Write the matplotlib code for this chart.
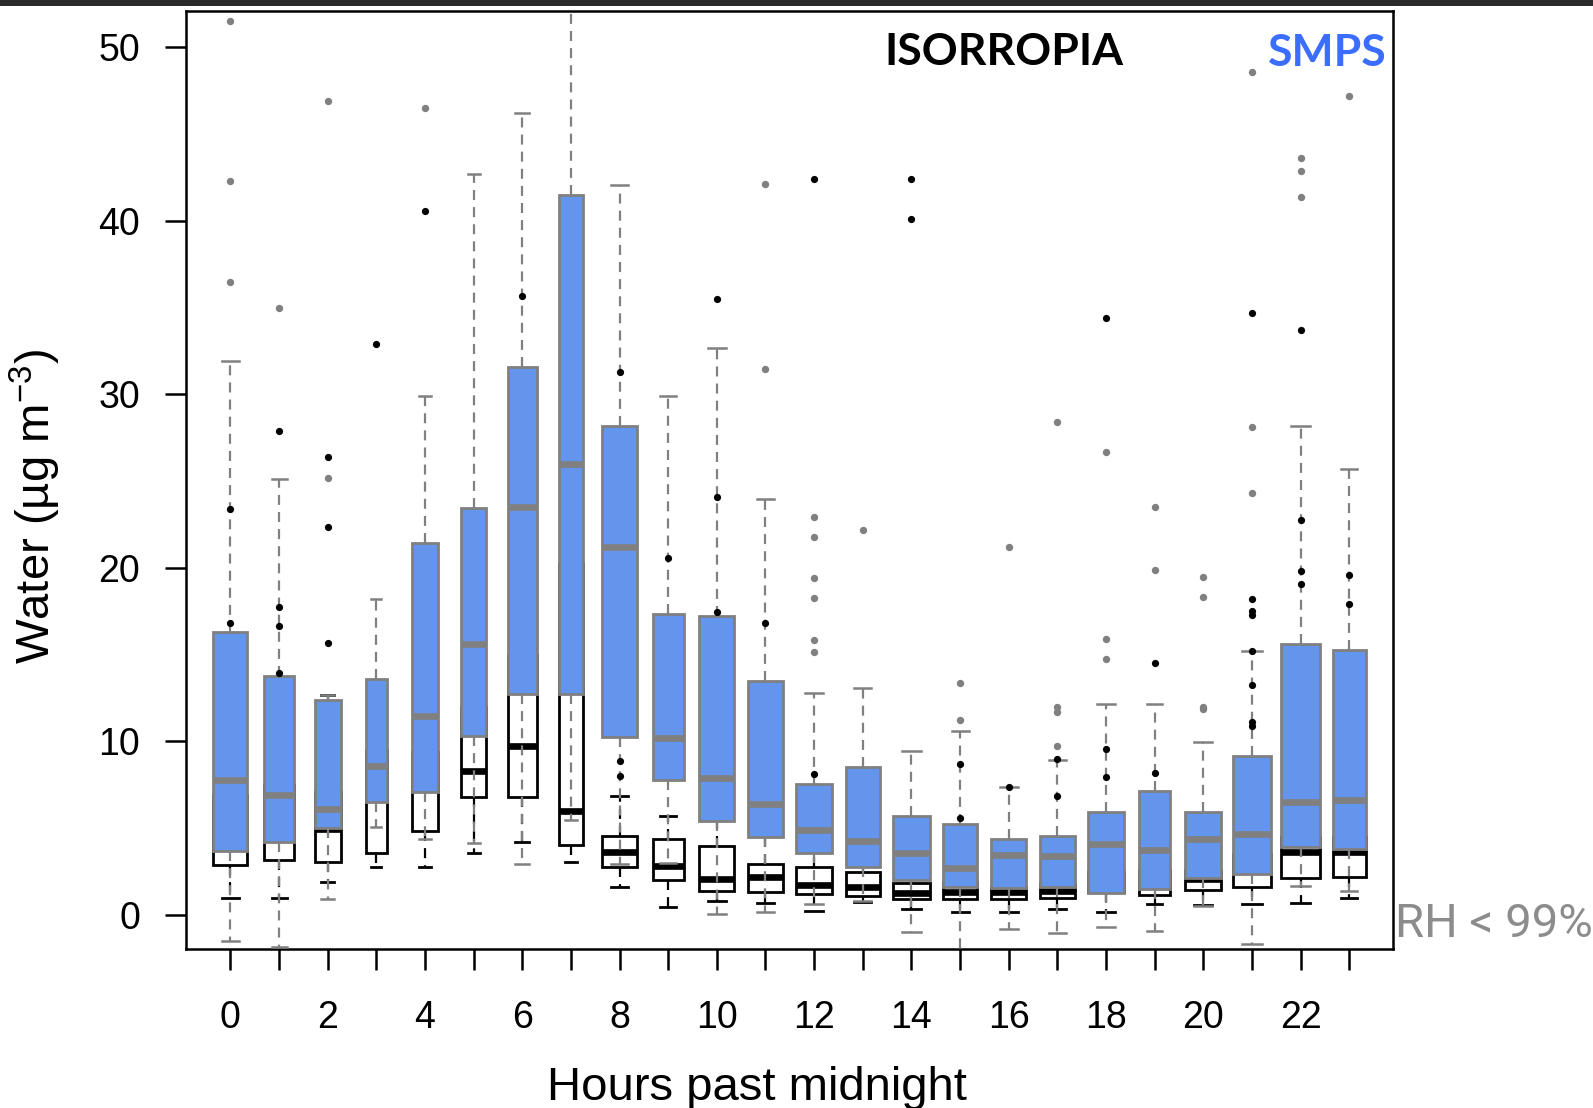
import numpy as np
import matplotlib
matplotlib.use("Agg")
import matplotlib.pyplot as plt
from matplotlib.patches import Rectangle

plt.rcParams["font.family"] = ["Liberation Sans", "DejaVu Sans"]
plt.rcParams["mathtext.default"] = "regular"

hours = list(range(24))

# relative box widths (hour units), proportional to sample size in the original
box_width = [0.70, 0.62, 0.53, 0.42, 0.53, 0.50, 0.59, 0.50, 0.72, 0.64, 0.72, 0.73,
             0.75, 0.69, 0.76, 0.70, 0.73, 0.72, 0.75, 0.64, 0.74, 0.79, 0.79, 0.68]

# SMPS (blue boxes)
smps_lo = [-1.5, -1.85, 0.92, 5.1, 4.37, 4.16, 2.92, 5.47, 2.92, 2.98, 0.06, 0.19,
           0.61, 0.8, -0.96, -2.5, -0.82, -1.05, -0.71, -0.9, 0.52, -1.66, 1.69, 1.4]
smps_q1 = [3.7, 4.2, 5.0, 6.5, 7.06, 10.3, 12.76, 12.76, 10.26, 7.77, 5.43, 4.5,
           3.55, 2.78, 2.0, 1.63, 1.53, 1.59, 1.28, 1.48, 2.15, 2.34, 3.93, 3.78]
smps_med = [7.8, 6.9, 6.1, 8.6, 11.45, 15.6, 23.5, 26.0, 21.2, 10.2, 7.9, 6.39,
            4.89, 4.26, 3.55, 2.69, 3.45, 3.4, 4.07, 3.74, 4.36, 4.64, 6.52, 6.62]
smps_q3 = [16.3, 13.8, 12.4, 13.6, 21.45, 23.45, 31.6, 41.5, 28.2, 17.33, 17.23, 13.47,
           7.54, 8.54, 5.7, 5.22, 4.37, 4.57, 5.91, 7.14, 5.91, 9.17, 15.6, 15.26]
smps_hi = [31.9, 25.1, 12.7, 18.2, 29.9, 42.7, 46.2, 56.0, 42.1, 29.9, 32.67, 23.96,
           12.82, 13.1, 9.46, 10.6, 7.39, 8.96, 12.15, 12.15, 9.98, 15.2, 28.2, 25.7]
smps_out = [[36.5, 42.3, 51.5], [35.0], [25.2, 46.9], [], [46.5], [], [], [],
            [], [], [], [31.45, 42.15],
            [15.16, 15.83, 18.28, 19.45, 21.8, 22.96], [22.2], [], [11.23, 13.37],
            [21.2], [9.75, 11.7, 12.0, 28.44], [14.74, 15.89, 26.7], [19.9, 23.5],
            [11.85, 11.96, 18.3, 19.5], [24.3, 28.15, 48.6], [41.4, 42.9, 43.6], [47.2]]

# ISORROPIA (white boxes)
iso_lo = [0.96, 0.98, 1.92, 2.75, 2.75, 3.6, 4.22, 3.07, 1.59, 0.48, 0.83, 0.67,
          0.25, 0.77, 0.33, 0.19, 0.15, 0.33, 0.19, 0.63, 0.6, 0.63, 0.71, 1.0]
iso_q1 = [2.9, 3.17, 3.07, 3.55, 4.84, 6.8, 6.78, 4.03, 2.78, 2.0, 1.38, 1.3,
          1.21, 1.11, 0.92, 0.92, 0.92, 1.0, 1.35, 1.15, 1.44, 1.63, 2.11, 2.17]
iso_med = [4.6, 4.8, 4.95, 6.8, 7.3, 8.3, 9.75, 5.99, 3.65, 2.82, 2.05, 2.17,
           1.73, 1.63, 1.28, 1.34, 1.34, 1.4, 1.7, 1.7, 2.05, 2.6, 3.64, 3.64]
iso_q3 = [6.9, 7.5, 7.1, 9.5, 9.4, 12.0, 15.0, 20.2, 4.57, 4.36, 3.99, 2.94,
          2.78, 2.5, 1.86, 1.9, 1.6, 1.8, 2.5, 2.6, 2.6, 3.5, 4.5, 4.5]
iso_hi = [14.5, 13.0, 12.7, 13.0, 14.0, 18.0, 25.0, 38.0, 6.87, 5.7, 8.0, 6.0,
          4.5, 3.5, 3.0, 3.0, 3.0, 3.0, 4.0, 4.5, 4.0, 6.0, 8.0, 8.0]
iso_out = [[16.8, 23.4], [13.95, 16.65, 17.75, 27.9], [15.7, 22.35, 26.4], [32.9],
           [40.6], [], [35.7], [], [8.02, 8.87, 31.3], [20.57], [17.46, 24.08, 35.48],
           [16.83], [8.12, 42.4], [], [40.1, 42.4], [5.6, 8.69], [7.39], [6.87, 9.0],
           [7.96, 9.56, 34.4], [8.19, 14.5], [],
           [10.9, 11.1, 13.24, 15.2, 17.3, 17.5, 18.2, 34.7],
           [19.08, 19.85, 22.75, 33.7], [17.9, 19.6]]


def make_stats(lo, q1, med, q3, hi, out):
    return [dict(whislo=a, q1=b, med=c, q3=d, whishi=e, fliers=f)
            for a, b, c, d, e, f in zip(lo, q1, med, q3, hi, out)]


GREY = "#808080"
BLUE = "#6495ED"
dash = (0, (4.5, 3.2))

fig = plt.figure(figsize=(15.93, 11.08), dpi=100)
ax = fig.add_axes([186 / 1593, 1 - 949 / 1108, (1393 - 186) / 1593, (949 - 11) / 1108])

caps = [w * 0.5 for w in box_width]

# ISORROPIA underneath
iso = ax.bxp(make_stats(iso_lo, iso_q1, iso_med, iso_q3, iso_hi, iso_out),
             positions=hours, widths=box_width, capwidths=caps, patch_artist=True,
             manage_ticks=False, zorder=2,
             boxprops=dict(facecolor="white", edgecolor="black", linewidth=2.0),
             medianprops=dict(color="black", linewidth=4.8, solid_capstyle="butt"),
             whiskerprops=dict(color="black", linewidth=1.6, linestyle=dash),
             capprops=dict(color="black", linewidth=2.0),
             flierprops=dict(marker="o", markerfacecolor="black", markeredgecolor="none",
                             markersize=5.2))
for art in iso["fliers"]:
    art.set_zorder(6)
for art in iso["caps"] + iso["whiskers"]:
    art.set_zorder(2.5)

# SMPS on top
smps = ax.bxp(make_stats(smps_lo, smps_q1, smps_med, smps_q3, smps_hi, smps_out),
              positions=hours, widths=box_width, capwidths=caps, patch_artist=True,
              manage_ticks=False, zorder=3,
              boxprops=dict(facecolor=BLUE, edgecolor=GREY, linewidth=2.0),
              medianprops=dict(color=GREY, linewidth=4.8, solid_capstyle="butt"),
              whiskerprops=dict(color=GREY, linewidth=1.6, linestyle=dash),
              capprops=dict(color=GREY, linewidth=1.8),
              flierprops=dict(marker="o", markerfacecolor=GREY, markeredgecolor="none",
                              markersize=5.3))
for art in smps["whiskers"] + smps["caps"] + smps["fliers"]:
    art.set_zorder(4)

ax.set_xlim(-0.913, 23.9)
ax.set_ylim(-1.96, 52.1)
ax.set_xticks(hours)
ax.set_xticklabels([str(h) if h % 2 == 0 else "" for h in hours])
ax.set_yticks([0, 10, 20, 30, 40, 50])
ax.tick_params(axis="both", length=15, width=1.8, labelsize=27, color="black")
ax.tick_params(axis="x", pad=22)
ax.tick_params(axis="y", pad=18)
for sp in ax.spines.values():
    sp.set_linewidth(1.8)

fig.text(1004 / 1593, 1 - 65 / 1108, "ISORROPIA", family="Lato", weight="bold",
         fontsize=32, color="black", ha="center", va="baseline")
fig.text(1327 / 1593, 1 - 66 / 1108, "SMPS", family="Lato", weight="bold",
         fontsize=32, color="#3b6eff", ha="center", va="baseline")
fig.text(1494 / 1593, 1 - 937 / 1108, "RH < 99%", family="Roboto",
         fontsize=34, color="#8c8c8c", ha="center", va="baseline")

fig.text(757 / 1593, 1 - 1100 / 1108, "Hours past midnight", fontsize=34,
         ha="center", va="baseline")
fig.text(35 / 1593, 1 - 506 / 1108, "Water (µg m$^{-3}$)", fontsize=34,
         rotation=90, ha="center", va="center")

# dark strip along the top edge of the original screenshot
fig.patches.append(Rectangle((0, 1 - 6 / 1108), 1, 6 / 1108, transform=fig.transFigure,
                             facecolor="#2b2b2b", edgecolor="none", zorder=10))

fig.savefig("out.png", dpi=100)
